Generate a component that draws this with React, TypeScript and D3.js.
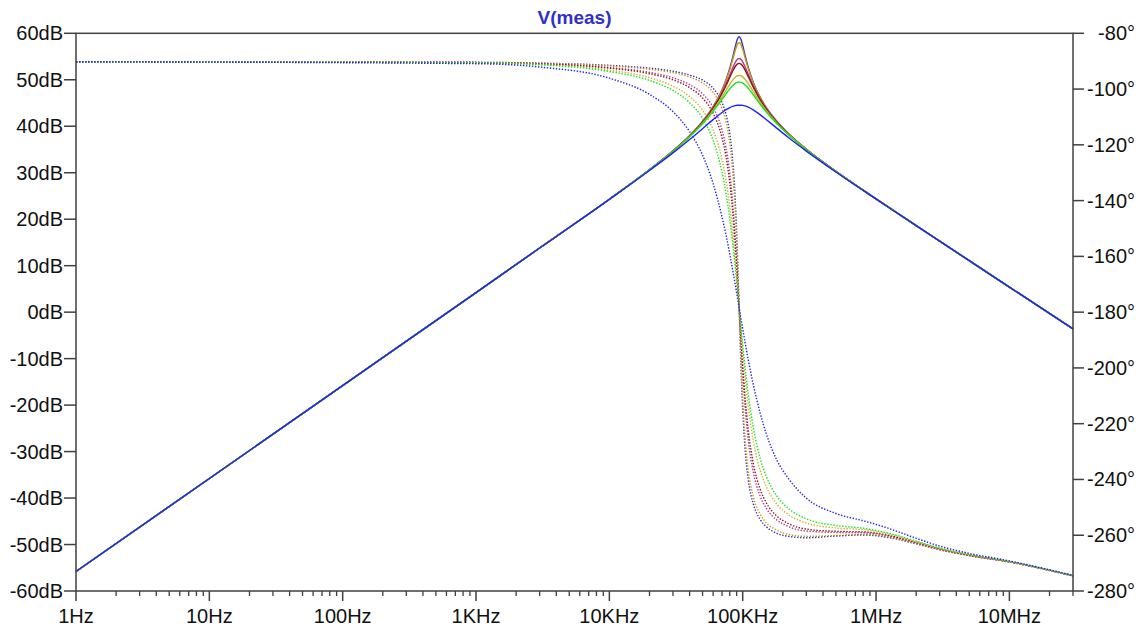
import React from "react";
import * as d3 from "d3";

const freqs = [1, 1e3, 3e3, 1e4, 2e4, 3e4, 4e4, 5e4, 6e4, 7e4, 7.5e4, 8e4, 8.5e4, 8.8e4, 9.1e4, 9.4e4, 9.7e4, 1e5, 1.04e5, 1.1e5, 1.2e5, 1.35e5, 1.5e5, 1.8e5, 2.2e5, 3e5, 5e5, 8e5, 1.2e6, 2e6, 3e6, 5e6, 1e7, 3e7];

const magNavy = [-55.8, 4.2, 13.8, 24.3, 30.66, 34.7, 37.98, 41.04, 44.21, 47.84, 49.99, 52.47, 55.35, 57.15, 58.65, 59.26, 58.7, 57.39, 55.37, 52.72, 49.49, 46.27, 44.07, 41.07, 38.44, 35.06, 30.3, 26.24, 22.85, 18.62, 15.28, 11.08, 5.39, -3.6];
const magGold2 = [-55.8, 4.2, 13.8, 24.3, 30.65, 34.69, 37.97, 41.02, 44.16, 47.74, 49.82, 52.18, 54.8, 56.35, 57.55, 58.02, 57.6, 56.55, 54.83, 52.42, 49.34, 46.21, 44.03, 41.05, 38.43, 35.05, 30.3, 26.24, 22.85, 18.62, 15.28, 11.08, 5.39, -3.6];
const magMagenta = [-55.8, 4.2, 13.8, 24.3, 30.65, 34.67, 37.92, 40.92, 43.95, 47.27, 49.09, 50.99, 52.83, 53.75, 54.37, 54.58, 54.39, 53.87, 52.86, 51.19, 48.7, 45.89, 43.83, 40.95, 38.37, 35.03, 30.29, 26.24, 22.85, 18.62, 15.28, 11.08, 5.39, -3.6];
const magDarkRed = [-55.8, 4.2, 13.8, 24.3, 30.64, 34.66, 37.9, 40.87, 43.85, 47.06, 48.77, 50.5, 52.1, 52.86, 53.36, 53.53, 53.38, 52.96, 52.13, 50.68, 48.41, 45.73, 43.74, 40.9, 38.35, 35.02, 30.28, 26.24, 22.85, 18.62, 15.28, 11.08, 5.39, -3.6];
const magGold = [-55.8, 4.2, 13.8, 24.3, 30.62, 34.61, 37.8, 40.68, 43.48, 46.32, 47.72, 49.02, 50.09, 50.55, 50.84, 50.93, 50.86, 50.63, 50.13, 49.17, 47.46, 45.2, 43.4, 40.73, 38.25, 34.98, 30.26, 26.23, 22.85, 18.62, 15.28, 11.08, 5.39, -3.6];
const magGreen = [-55.8, 4.2, 13.8, 24.3, 30.61, 34.57, 37.72, 40.52, 43.19, 45.77, 46.98, 48.04, 48.88, 49.22, 49.43, 49.5, 49.45, 49.28, 48.92, 48.18, 46.77, 44.79, 43.12, 40.58, 38.17, 34.94, 30.24, 26.23, 22.85, 18.62, 15.28, 11.08, 5.39, -3.6];
const magBlue = [-55.8, 4.2, 13.8, 24.28, 30.49, 34.28, 37.14, 39.48, 41.43, 42.97, 43.56, 44.01, 44.32, 44.44, 44.51, 44.53, 44.52, 44.48, 44.37, 44.11, 43.53, 42.5, 41.45, 39.59, 37.58, 34.66, 30.16, 26.2, 22.84, 18.62, 15.28, 11.08, 5.39, -3.6];

const phNavy = [-90.2, -90.4, -90.7, -91.5, -92.5, -93.6, -95.0, -96.8, -99.7, -104.8, -109.1, -116.0, -128.2, -140.1, -157.1, -178.3, -198.8, -214.7, -228.6, -240.0, -248.7, -254.3, -256.9, -259.3, -260.4, -260.9, -260.3, -259.9, -260.7, -263.1, -265.2, -267.3, -269.6, -274.6];
const phGold2 = [-90.2, -90.4, -90.8, -91.7, -92.9, -94.1, -95.7, -97.8, -101.2, -107.0, -111.9, -119.5, -132.3, -144.1, -159.8, -178.3, -196.3, -210.9, -224.5, -236.5, -246.1, -252.4, -255.5, -258.2, -259.7, -260.4, -260.1, -259.7, -260.5, -263.0, -265.2, -267.3, -269.6, -274.6];
const phMagenta = [-90.2, -90.5, -90.9, -92.3, -94.0, -96.0, -98.4, -101.7, -106.6, -114.7, -121.1, -130.2, -143.4, -153.7, -165.6, -178.3, -190.6, -201.5, -213.3, -225.7, -237.3, -245.9, -250.3, -254.5, -256.9, -258.5, -259.0, -259.1, -260.1, -262.7, -265.0, -267.2, -269.6, -274.6];
const phDarkRed = [-90.2, -90.5, -91.0, -92.5, -94.5, -96.7, -99.5, -103.2, -108.7, -117.5, -124.3, -133.7, -146.6, -156.3, -167.0, -178.3, -189.2, -199.1, -210.1, -222.2, -234.2, -243.4, -248.3, -253.1, -255.8, -257.8, -258.6, -258.8, -259.9, -262.6, -264.9, -267.2, -269.5, -274.5];
const phGold = [-90.2, -90.6, -91.2, -93.2, -95.9, -99.0, -102.7, -107.6, -114.6, -125.2, -132.7, -142.1, -153.7, -161.6, -169.9, -178.3, -186.4, -194.0, -203.0, -213.8, -226.0, -236.6, -242.5, -248.8, -252.6, -255.6, -257.4, -258.0, -259.4, -262.3, -264.7, -267.0, -269.5, -274.5];
const phGreen = [-90.2, -90.6, -91.3, -93.7, -96.9, -100.5, -104.9, -110.5, -118.4, -129.8, -137.4, -146.5, -157.2, -164.1, -171.2, -178.3, -185.2, -191.7, -199.6, -209.4, -221.3, -232.3, -238.8, -245.9, -250.4, -254.1, -256.5, -257.5, -259.1, -262.1, -264.6, -266.9, -269.4, -274.5];
const phBlue = [-90.2, -90.9, -92.1, -96.1, -101.9, -108.1, -115.3, -123.7, -133.9, -145.9, -152.4, -159.2, -166.1, -170.2, -174.3, -178.3, -182.2, -185.9, -190.6, -197.0, -205.9, -216.1, -223.5, -233.0, -239.6, -246.7, -252.2, -254.8, -257.3, -261.1, -263.9, -266.5, -269.2, -274.4];

const seriesColors = ["#3535b5", "#c8961a", "#b03c8c", "#8b1a1a", "#c8b428", "#18e018", "#2020ff"];
const magSeries = [magNavy, magGold2, magMagenta, magDarkRed, magGold, magGreen, magBlue];
const phaseSeries = [phNavy, phGold2, phMagenta, phDarkRed, phGold, phGreen, phBlue];

const dbTicks = [60, 50, 40, 30, 20, 10, 0, -10, -20, -30, -40, -50, -60];
const degTicks = [-80, -100, -120, -140, -160, -180, -200, -220, -240, -260, -280];
const freqTicks = [1, 10, 100, 1e3, 1e4, 1e5, 1e6, 1e7];
const freqLabels = ["1Hz", "10Hz", "100Hz", "1KHz", "10KHz", "100KHz", "1MHz", "10MHz"];
const title = "V(meas)";

const W = 1143;
const H = 630;
const L = 76;
const R = 1073;
const T = 33.3;
const B = 591;

export default function App() {
  const x = d3.scaleLog().domain([1, 3e7]).range([L, R]);
  const yMag = d3.scaleLinear().domain([-60, 60]).range([B, T]);
  const yPh = d3.scaleLinear().domain([-280, -80]).range([B, T]);

  const magLine = (vals: number[]) =>
    d3.line<number>().x((_, i) => x(freqs[i])).y((v) => yMag(v)).curve(d3.curveMonotoneX)(vals) || "";
  const phLine = (vals: number[]) =>
    d3.line<number>().x((_, i) => x(freqs[i])).y((v) => yPh(v)).curve(d3.curveMonotoneX)(vals) || "";

  const minor: number[] = [];
  for (let d = 0; d < 8; d++) {
    for (let m = 2; m <= 9; m++) {
      const f = m * Math.pow(10, d);
      if (f < 3e7) minor.push(f);
    }
  }

  const font = "'Liberation Sans', Arial, sans-serif";
  const axisColor = "#404040";

  return (
    <svg width={W} height={H} style={{ position: "absolute", left: 0, top: 0, background: "#fff" }}>
      <rect x={0} y={0} width={W} height={H} fill="#ffffff" />
      <text x={(L + R) / 2} y={24} textAnchor="middle" fontFamily={font} fontSize={19} fontWeight="bold" fill="#3030c8">
        {title}
      </text>
      <g>
        {phaseSeries.map((s, k) => (
          <path key={"p" + k} d={phLine(s)} fill="none" stroke={seriesColors[k]} strokeWidth={1.4} strokeDasharray="1.4 1.6" />
        ))}
        {magSeries.map((s, k) => (
          <path key={"m" + k} d={magLine(s)} fill="none" stroke={seriesColors[k]} strokeWidth={1.4} />
        ))}
      </g>
      <rect x={L} y={T} width={R - L} height={B - T} fill="none" stroke={axisColor} strokeWidth={1.5} />
      {dbTicks.map((v) => (
        <g key={"db" + v}>
          <line x1={L - 12} x2={L} y1={yMag(v)} y2={yMag(v)} stroke={axisColor} strokeWidth={1.5} />
          <text x={L - 13} y={yMag(v) + 7} textAnchor="end" fontFamily={font} fontSize={20} fill="#111">
            {v + "dB"}
          </text>
        </g>
      ))}
      {degTicks.map((v) => (
        <g key={"dg" + v}>
          <line x1={R} x2={R + 11} y1={yPh(v)} y2={yPh(v)} stroke={axisColor} strokeWidth={1.5} />
          <text x={1135} y={yPh(v) + 7} textAnchor="end" fontFamily={font} fontSize={20} fill="#111">
            {v + "°"}
          </text>
        </g>
      ))}
      {minor.map((f) => (
        <line key={"mn" + f} x1={x(f)} x2={x(f)} y1={B} y2={B + 5} stroke={axisColor} strokeWidth={1.3} />
      ))}
      <line x1={x(3e7)} x2={x(3e7)} y1={B} y2={B + 5} stroke={axisColor} strokeWidth={1.3} />
      {freqTicks.map((f, i) => (
        <g key={"ft" + f}>
          <line x1={x(f)} x2={x(f)} y1={B} y2={B + 10} stroke={axisColor} strokeWidth={1.5} />
          <text x={x(f)} y={623} textAnchor="middle" fontFamily={font} fontSize={20} fill="#111">
            {freqLabels[i]}
          </text>
        </g>
      ))}
    </svg>
  );
}
